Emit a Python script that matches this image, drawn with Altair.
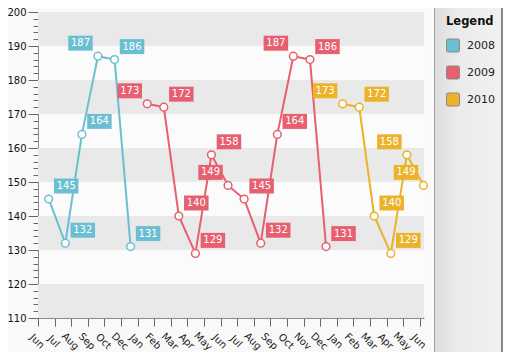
import altair as alt
import pandas as pd

# ---------------- data ----------------
series_names = ["2008", "2009", "2010"]
series_colors = ["#6cbfd2", "#e6606f", "#ebb22a"]

dates_2008 = ["2008-07-19", "2008-08-19", "2008-09-19", "2008-10-19", "2008-11-19", "2008-12-19"]
values_2008 = [145, 132, 164, 187, 186, 131]
label_side_2008 = ["R", "R", "R", "L", "R", "R"]

dates_2009 = ["2009-01-19", "2009-02-19", "2009-03-19", "2009-04-19", "2009-05-19", "2009-06-19",
              "2009-07-19", "2009-08-19", "2009-09-19", "2009-10-19", "2009-11-19", "2009-12-19"]
values_2009 = [173, 172, 140, 129, 158, 149, 145, 132, 164, 187, 186, 131]
label_side_2009 = ["L", "R", "R", "R", "R", "L", "R", "R", "R", "L", "R", "R"]

dates_2010 = ["2010-01-19", "2010-02-19", "2010-03-19", "2010-04-19", "2010-05-19", "2010-06-19"]
values_2010 = [173, 172, 140, 129, 158, 149]
label_side_2010 = ["L", "R", "R", "R", "L", "L"]

axis_tick_dates = ["2008-06-29", "2008-07-30", "2008-08-30", "2008-09-30", "2008-10-31", "2008-12-01",
                   "2009-01-01", "2009-02-01", "2009-03-04", "2009-04-04", "2009-05-05", "2009-06-05",
                   "2009-07-06", "2009-08-06", "2009-09-06", "2009-10-07", "2009-11-07", "2009-12-08",
                   "2010-01-08", "2010-02-08", "2010-03-11", "2010-04-11", "2010-05-12", "2010-06-12"]
axis_end_date = "2010-06-20"

y_min, y_max = 110, 200
y_major_step, y_minor_step = 10, 2
band_starts = [110, 130, 150, 170, 190]

# ---------------- tables ----------------
rows = []
for name, ds, vs, ss in zip(series_names,
                            [dates_2008, dates_2009, dates_2010],
                            [values_2008, values_2009, values_2010],
                            [label_side_2008, label_side_2009, label_side_2010]):
    for d, v, s in zip(ds, vs, ss):
        rows.append({"series": name, "date": d, "value": v, "side": s})
df = pd.DataFrame(rows)

bands = pd.DataFrame({"start": band_starts, "end": [b + y_major_step for b in band_starts]})
one = pd.DataFrame({"k": [0]})


def dt(s):
    y, m, d = (int(p) for p in s.split("-"))
    return alt.DateTime(year=y, month=m, date=d, utc=True)


W, H = 386, 306
PAD_L, PAD_T, PAD_R, PAD_B = 30, 4, 79, 34
FONT = "DejaVu Sans"

xscale = alt.Scale(type="utc", domain=[dt(axis_tick_dates[0]), dt(axis_end_date)])
xaxis = alt.Axis(values=[dt(s) for s in axis_tick_dates], format="%b", labelAngle=45,
                 labelAlign="center", labelBaseline="middle", labelPadding=15, labelOffset=-1.5,
                 tickSize=8, labelFlush=False, labelOverlap=False, title=None, grid=False,
                 domainColor="#8a8a8a", tickColor="#666666", labelColor="#1a1a1a",
                 labelFont=FONT, labelFontSize=10)

yscale = alt.Scale(domain=[y_min, y_max], nice=False, zero=False)
yaxis = alt.Axis(values=list(range(y_min, y_max + 1, y_minor_step)),
                 labelExpr="datum.value % 10 === 0 ? datum.label : ''",
                 tickSize={"condition": {"test": "datum.value % 10 === 0", "value": 10}, "value": 5},
                 labelPadding=2, labelOverlap=False, title=None, grid=False,
                 domainColor="#8a8a8a", tickColor="#666666", labelColor="#111111",
                 labelFont=FONT, labelFontSize=10)

# stroke scale keeps a data-derived domain so that its (hidden) legend is not merged with the fill legend
stroke_scale = alt.Scale(range=series_colors)
fill_scale = alt.Scale(domain=series_names, range=series_colors)

legend_symbol = ("M-1,-0.75Q-1,-1,-0.75,-1L0.75,-1Q1,-1,1,-0.75L1,0.75Q1,1,0.75,1"
                 "L-0.75,1Q-1,1,-1,0.75Z")
legend = alt.Legend(
    title="Legend", orient="none", legendX=408, legendY=4, padding=0,
    symbolType=legend_symbol, symbolSize=169, symbolStrokeColor="#8a8a8a", symbolStrokeWidth=1,
    symbolOpacity=1,
    rowPadding=9, titlePadding=11, labelOffset=7,
    titleFont=FONT, titleFontSize=11.5, titleFontWeight="bold", titleColor="#111111",
    labelFont=FONT, labelFontSize=11, labelColor="#222222",
)

# ---------------- layers ----------------
panel_x0 = 396
panel_x1 = W + PAD_R - 2
panel = alt.Chart(one).mark_rect(
    color=alt.Gradient(gradient="linear", x1=0, y1=0, x2=1, y2=0,
                       stops=[alt.GradientStop(color="#dcdcdc", offset=0),
                              alt.GradientStop(color="#ebebeb", offset=0.35),
                              alt.GradientStop(color="#f1f1f1", offset=1)])
).encode(x=alt.value(panel_x0), x2=alt.value(panel_x1), y=alt.value(-PAD_T), y2=alt.value(H + PAD_B))

panel_edge = alt.Chart(one).mark_rule(color="#a0a0a0", strokeWidth=1).encode(
    x=alt.value(panel_x0 + 0.5), y=alt.value(-PAD_T), y2=alt.value(H + PAD_B))
outer_edge = alt.Chart(one).mark_rule(color="#888888", strokeWidth=2).encode(
    x=alt.value(panel_x1 + 1), y=alt.value(-PAD_T), y2=alt.value(H + PAD_B))

band_layer = alt.Chart(bands).mark_rect(color="#e9e9e9").encode(
    y=alt.Y("start:Q", scale=yscale, axis=yaxis), y2="end:Q",
    x=alt.value(0), x2=alt.value(W))

base = alt.Chart(df).encode(
    x=alt.X("date:T", scale=xscale, axis=xaxis),
    y=alt.Y("value:Q", scale=yscale, axis=yaxis),
)

lines = base.mark_line(strokeWidth=2).encode(
    stroke=alt.Stroke("series:N", scale=stroke_scale, legend=None))

points = base.mark_point(filled=True, fill="white", size=60, strokeWidth=1.5, opacity=1).encode(
    stroke=alt.Stroke("series:N", scale=stroke_scale, legend=None))

box_right = "M5.25,-20.5H29.75V-5.5H5.25Z"
box_left = "M-29.75,-20.5H-5.25V-5.5H-29.75Z"

boxes_r = base.mark_point(shape=box_right, size=4, filled=True, opacity=1, strokeWidth=0).encode(
    fill=alt.Fill("series:N", scale=fill_scale, legend=legend)
).transform_filter(alt.datum.side == "R")
boxes_l = base.mark_point(shape=box_left, size=4, filled=True, opacity=1, strokeWidth=0).encode(
    fill=alt.Fill("series:N", scale=fill_scale, legend=legend)
).transform_filter(alt.datum.side == "L")

text_r = base.mark_text(dx=17.5, dy=-13, font=FONT, fontSize=10, color="white",
                        align="center", baseline="middle").encode(
    text="value:Q").transform_filter(alt.datum.side == "R")
text_l = base.mark_text(dx=-17.5, dy=-13, font=FONT, fontSize=10, color="white",
                        align="center", baseline="middle").encode(
    text="value:Q").transform_filter(alt.datum.side == "L")

chart = alt.layer(
    panel, panel_edge, outer_edge, band_layer, lines, points, boxes_r, boxes_l, text_r, text_l
).properties(
    width=W, height=H,
    autosize=alt.AutoSizeParams(type="none"),
    padding={"left": PAD_L, "top": PAD_T, "right": PAD_R, "bottom": PAD_B},
    background="#f9f9f9",
).configure_view(stroke="transparent", fill="#fbfbfb")

chart.save("out.html", embed_options={"renderer": "svg", "actions": False})
